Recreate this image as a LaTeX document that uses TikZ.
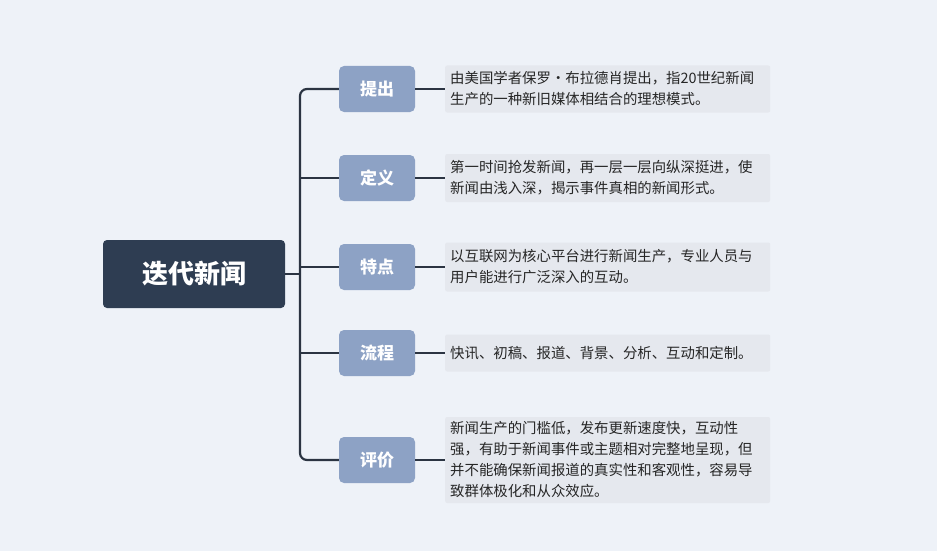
\documentclass[tikz,border=0pt]{standalone}
\usepackage{fontspec}
\newfontfamily\cjk{Noto Sans CJK SC}
\usetikzlibrary{positioning}
\definecolor{bgc}{HTML}{EEF2F8}
\definecolor{rootc}{HTML}{2E3D52}
\definecolor{branchc}{HTML}{8DA2C5}
\definecolor{notec}{HTML}{E5E8EE}
\definecolor{linec}{HTML}{2B3442}
\tikzset{
  rootbox/.style={fill=rootc,text=white,rounded corners=4pt,minimum width=182pt,minimum height=68pt,font=\cjk\bfseries\fontsize{26}{30}\selectfont},
  branchbox/.style={fill=branchc,text=white,rounded corners=5pt,minimum width=76pt,minimum height=46pt,font=\cjk\bfseries\fontsize{17}{20}\selectfont},
  notebox/.style={fill=notec,text=black!85,rounded corners=2pt,text width=315pt,inner xsep=5pt,align=left,anchor=west,font=\cjk\fontsize{14.4}{21}\selectfont},
  link/.style={draw=linec,line width=2.2pt,rounded corners=7pt}
}
\begin{document}
\begin{tikzpicture}[x=1pt,y=-1pt]
\fill[bgc] (0,0) rectangle (937,551);
\useasboundingbox (0,0) rectangle (937,551);

\node[rootbox] (root) at (194,274) {迭代新闻};

\node[branchbox] (b1) at (377,89) {提出};
\node[branchbox] (b2) at (377,178) {定义};
\node[branchbox] (b3) at (377,267) {特点};
\node[branchbox] (b4) at (377,353) {流程};
\node[branchbox] (b5) at (377,460) {评价};

\node[notebox,minimum height=47pt] (n1) at (445,89) {由美国学者保罗·布拉德肖提出，指20世纪新闻\\生产的一种新旧媒体相结合的理想模式。};
\node[notebox,minimum height=48pt] (n2) at (445,178) {第一时间抢发新闻，再一层一层向纵深挺进，使\\新闻由浅入深，揭示事件真相的新闻形式。};
\node[notebox,minimum height=49pt] (n3) at (445,267) {以互联网为核心平台进行新闻生产，专业人员与\\用户能进行广泛深入的互动。};
\node[notebox,minimum height=37pt] (n4) at (445,353) {快讯、初稿、报道、背景、分析、互动和定制。};
\node[notebox,minimum height=86pt] (n5) at (445,460) {新闻生产的门槛低，发布更新速度快，互动性\\强，有助于新闻事件或主题相对完整地呈现，但\\并不能确保新闻报道的真实性和客观性，容易导\\致群体极化和从众效应。};

\coordinate (trunk) at (300,274);
\draw[link] (root.east) -- (trunk);
\draw[link] (b1.west) -- (300,89) -- (300,460) -- (b5.west);
\foreach \b in {b2,b3,b4} \draw[link] (trunk |- \b.west) -- (\b.west);
\foreach \i in {1,...,5} \draw[linec,line width=1.5pt] (b\i.east) -- (n\i.west);
\end{tikzpicture}
\end{document}
